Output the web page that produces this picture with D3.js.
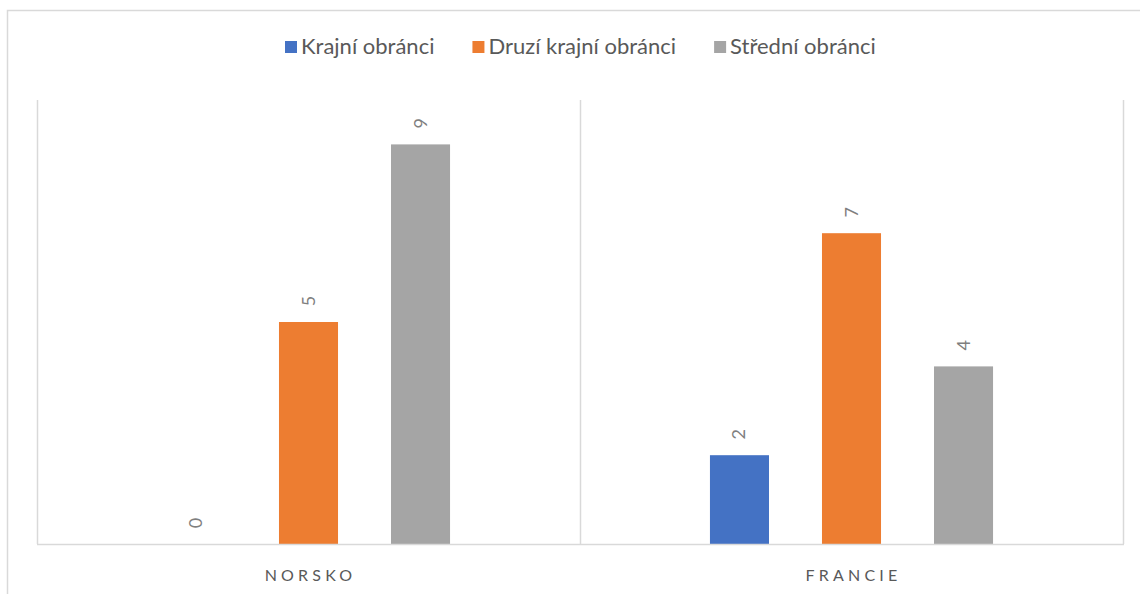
<!DOCTYPE html>
<html>
<head>
<meta charset="utf-8">
<script src="https://cdn.jsdelivr.net/npm/d3@7"></script>
<style>
  body { margin: 0; background: #fff; }
  text { font-family: Lato, "Open Sans", sans-serif; }
</style>
</head>
<body>
<div id="chart"></div>
<script>
const categories = ["NORSKO", "FRANCIE"];
const seriesNames = ["Krajní obránci", "Druzí krajní obránci", "Střední obránci"];
const seriesColors = ["#4472c4", "#ed7d31", "#a5a5a5"];
// values[series][category]
const values = [
  [0, 2],
  [5, 7],
  [9, 4]
];

const width = 1140;
const height = 594;
const svg = d3.select('#chart')
              .append("svg")
              .attr('width', width)
              .attr('height', height);

let plot = {left: 37, right: 1123, top: 100, bottom: 544};
let gridColor = "#d9d9d9";

// outer chart frame (cut off on right/bottom)
svg.append("path")
  .attr("d", "M7.5," + (height + 5) + " L7.5,10.5 L" + (width + 5) + ",10.5")
  .attr("fill", "none")
  .attr("stroke", gridColor)
  .attr("stroke-width", 1.5);

let x0 = d3.scaleBand().domain(categories).range([plot.left, plot.right]);
let x1 = d3.scaleBand().domain(seriesNames).range([0, x0.bandwidth()])
           .paddingInner(0.473).paddingOuter(1.16);
let y = d3.scaleLinear().domain([0, 10]).range([plot.bottom, plot.top]);

// plot area lines: left, separators, right
let vlines = [plot.left].concat(categories.map(c => x0(c) + x0.bandwidth()));
svg.append("g")
  .selectAll("line")
  .data(vlines)
  .join("line")
    .attr("x1", d => Math.round(d) + 0.5)
    .attr("x2", d => Math.round(d) + 0.5)
    .attr("y1", plot.top)
    .attr("y2", plot.bottom)
    .attr("stroke", gridColor)
    .attr("stroke-width", 1.5);

// bars
let barData = [];
seriesNames.forEach(function(s, si){
  categories.forEach(function(c, ci){
    barData.push({series: s, si: si, cat: c, value: values[si][ci]});
  });
});

svg.append("g")
  .selectAll("rect")
  .data(barData)
  .join("rect")
    .attr("x", d => x0(d.cat) + x1(d.series))
    .attr("y", d => y(d.value))
    .attr("width", x1.bandwidth())
    .attr("height", d => y(0) - y(d.value))
    .attr("fill", d => seriesColors[d.si]);

// data labels, rotated
svg.append("g")
  .selectAll("text")
  .data(barData)
  .join("text")
    .attr("transform", d => "translate(" + (x0(d.cat) + x1(d.series) + x1.bandwidth() / 2 + 6) + "," + (y(d.value) - 21) + ") rotate(-90)")
    .attr("text-anchor", "middle")
    .attr("font-size", "18px")
    .attr("fill", "#7f7f7f")
    .text(d => d.value);

// baseline
svg.append("line")
  .attr("x1", plot.left)
  .attr("x2", plot.right + 1)
  .attr("y1", plot.bottom + 0.5)
  .attr("y2", plot.bottom + 0.5)
  .attr("stroke", gridColor)
  .attr("stroke-width", 1.5);

// category labels
svg.append("g")
  .selectAll("text")
  .data(categories)
  .join("text")
    .attr("x", d => x0(d) + x0.bandwidth() / 2 + 2)
    .attr("y", 581)
    .attr("text-anchor", "middle")
    .attr("font-size", "16px")
    .attr("letter-spacing", "4.2px")
    .attr("fill", "#595959")
    .text(d => d);

// legend
let legend = svg.append("g");
let items = legend.selectAll("g")
  .data(seriesNames)
  .join("g");
items.append("rect")
  .attr("width", 12)
  .attr("height", 12)
  .attr("y", 41)
  .attr("fill", (d, i) => seriesColors[i]);
items.append("text")
  .attr("x", 16)
  .attr("y", 54)
  .attr("font-size", "22px")
  .attr("fill", "#595959")
  .text(d => d);

let lx = 0;
let offsets = [];
items.each(function(d){
  offsets.push(lx);
  lx += this.getBBox().width + 38;
});
lx -= 38;
let start = 285;
items.attr("transform", (d, i) => "translate(" + (start + offsets[i]) + ",0)");
</script>
</body>
</html>
